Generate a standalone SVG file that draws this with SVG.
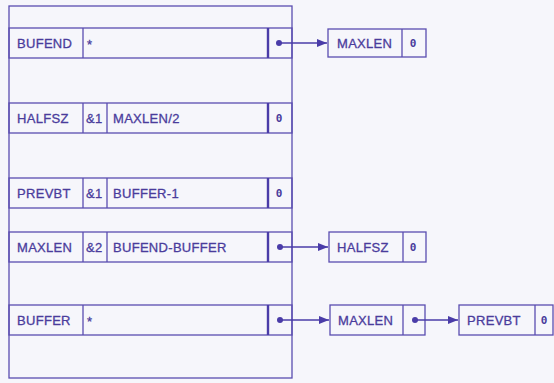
<svg xmlns="http://www.w3.org/2000/svg" width="554" height="383" viewBox="0 0 554 383">
<defs>
<style>
.bg{fill:#f6f6fb}
.ln{fill:none;stroke:#5a4db0;stroke-width:1.3}
.thick{stroke:#4a3ca8;stroke-width:2.4}
.t{font-family:"Liberation Sans",Arial,sans-serif;font-size:13px;fill:#4a3c9c;stroke:#4a3c9c;stroke-width:0.3;letter-spacing:0.3px}
.z{font-family:"DejaVu Sans Mono",monospace;font-size:11px;fill:#4a3c9c;font-weight:bold;text-anchor:middle}
.cn{fill:none;stroke:#4a3ca8;stroke-width:1.6}
</style>
<marker id="ah" viewBox="0 0 10 10" refX="10" refY="5" markerWidth="10" markerHeight="10" markerUnits="userSpaceOnUse" orient="auto"><path d="M0,1 L10,5 L0,9 z" fill="#4a3ca8"/></marker>
<marker id="dot" viewBox="0 0 6 6" refX="3" refY="3" markerWidth="6" markerHeight="6" markerUnits="userSpaceOnUse"><circle cx="3" cy="3" r="3" fill="#4a3ca8"/></marker>
</defs>
<rect class="bg" x="0" y="0" width="554" height="383"/>
<g id="memory">
<rect class="ln" x="9" y="6" width="283" height="372"/>
<g id="row-bufend">
<rect class="ln" x="9" y="28" width="283" height="30"/>
<line class="ln" x1="83" y1="28" x2="83" y2="58"/>
<line class="ln thick" x1="268" y1="28" x2="268" y2="58"/>
<text class="t" x="17" y="47.5">BUFEND</text>
<text class="t" x="87" y="49">*</text>
</g>
<g id="row-halfsz">
<rect class="ln" x="9" y="103" width="283" height="30"/>
<line class="ln" x1="83" y1="103" x2="83" y2="133"/>
<line class="ln" x1="107" y1="103" x2="107" y2="133"/>
<line class="ln thick" x1="268" y1="103" x2="268" y2="133"/>
<text class="t" x="17" y="122.5">HALFSZ</text>
<text class="t" x="86" y="122.5">&amp;1</text>
<text class="t" x="113" y="122.5">MAXLEN/2</text>
<text class="z" x="279" y="122">0</text>
</g>
<g id="row-prevbt">
<rect class="ln" x="9" y="178" width="283" height="30"/>
<line class="ln" x1="83" y1="178" x2="83" y2="208"/>
<line class="ln" x1="107" y1="178" x2="107" y2="208"/>
<line class="ln thick" x1="268" y1="178" x2="268" y2="208"/>
<text class="t" x="17" y="197.5">PREVBT</text>
<text class="t" x="86" y="197.5">&amp;1</text>
<text class="t" x="113" y="197.5">BUFFER-1</text>
<text class="z" x="279" y="197">0</text>
</g>
<g id="row-maxlen">
<rect class="ln" x="9" y="232" width="283" height="30"/>
<line class="ln" x1="83" y1="232" x2="83" y2="262"/>
<line class="ln" x1="107" y1="232" x2="107" y2="262"/>
<line class="ln thick" x1="268" y1="232" x2="268" y2="262"/>
<text class="t" x="17" y="251.5">MAXLEN</text>
<text class="t" x="86" y="251.5">&amp;2</text>
<text class="t" x="113" y="251.5">BUFEND-BUFFER</text>
</g>
<g id="row-buffer">
<rect class="ln" x="9" y="305" width="283" height="30"/>
<line class="ln" x1="83" y1="305" x2="83" y2="335"/>
<line class="ln thick" x1="268" y1="305" x2="268" y2="335"/>
<text class="t" x="17" y="324.5">BUFFER</text>
<text class="t" x="87" y="326">*</text>
</g>
</g>
<g id="box-maxlen-1">
<rect class="ln" x="328" y="29" width="98" height="28"/>
<line class="ln" x1="402" y1="29" x2="402" y2="57"/>
<text class="t" x="337" y="47.5">MAXLEN</text>
<text class="z" x="413" y="47">0</text>
</g>
<g id="box-halfsz">
<rect class="ln" x="329" y="232" width="97" height="30"/>
<line class="ln" x1="403" y1="232" x2="403" y2="262"/>
<text class="t" x="337" y="251.5">HALFSZ</text>
<text class="z" x="413" y="251">0</text>
</g>
<g id="box-maxlen-2">
<rect class="ln" x="330" y="305" width="95" height="30"/>
<line class="ln" x1="403" y1="305" x2="403" y2="335"/>
<text class="t" x="338" y="324.5">MAXLEN</text>
</g>
<g id="box-prevbt">
<rect class="ln" x="459" y="305" width="94" height="30"/>
<line class="ln" x1="535" y1="305" x2="535" y2="335"/>
<text class="t" x="467" y="324.5">PREVBT</text>
<text class="z" x="544" y="324">0</text>
</g>
<g id="connectors">
<path class="cn" d="M279,43 H327" marker-start="url(#dot)" marker-end="url(#ah)"/>
<path class="cn" d="M280,247 H328" marker-start="url(#dot)" marker-end="url(#ah)"/>
<path class="cn" d="M280,320 H329" marker-start="url(#dot)" marker-end="url(#ah)"/>
<path class="cn" d="M415,320 H458" marker-start="url(#dot)" marker-end="url(#ah)"/>
</g>
</svg>
